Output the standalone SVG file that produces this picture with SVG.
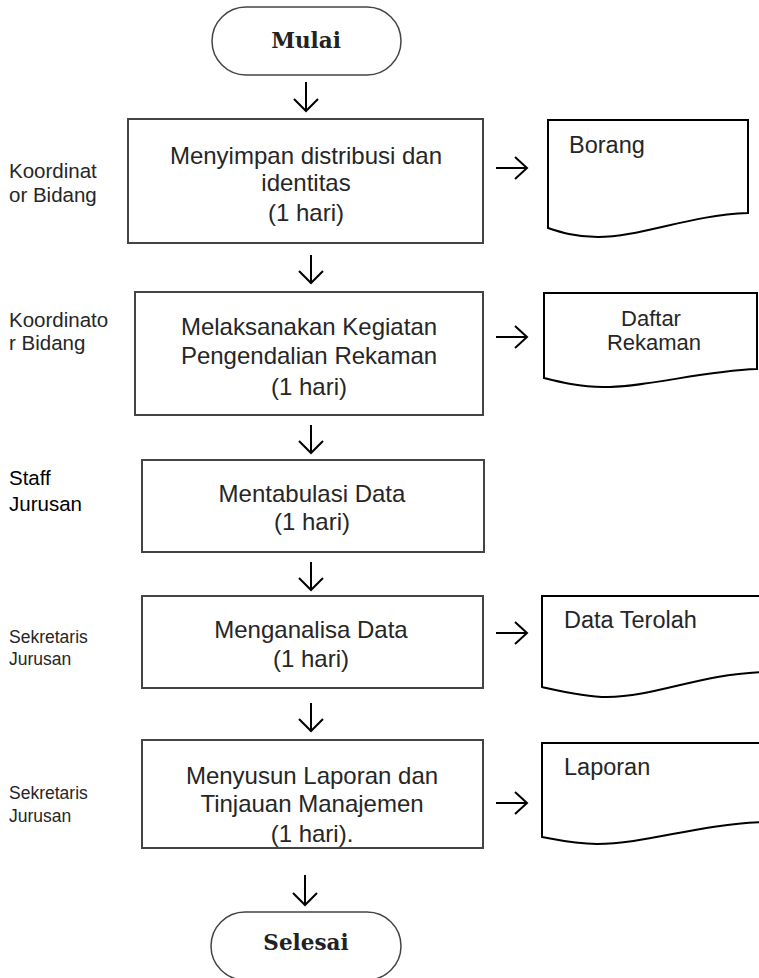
<svg xmlns="http://www.w3.org/2000/svg" width="759" height="978" viewBox="0 0 759 978">
<defs>
<style>
.box{fill:#fff;stroke:#444;stroke-width:2}
.term{fill:#fff;stroke:#444;stroke-width:1.5}
.doc{fill:#fff;stroke:#000;stroke-width:2}
.t{font-family:"Liberation Sans",Arial,sans-serif;font-size:24px;fill:#262626;text-anchor:middle}
.d{font-family:"Liberation Sans",Arial,sans-serif;font-size:23.5px;fill:#262626}
.lab{font-family:"Liberation Sans",Arial,sans-serif;font-size:20.5px;fill:#262626}
.lab2{font-family:"Liberation Sans",Arial,sans-serif;font-size:17.5px;fill:#262626}
.tt{font-family:"DejaVu Serif",serif;font-weight:bold;font-size:21.5px;fill:#222;text-anchor:middle}
.arr{fill:none;stroke:#000;stroke-width:2}
</style>
</defs>
<g id="labels">
<text class="lab" x="9" y="178">Koordinat</text>
<text class="lab" x="9" y="202">or Bidang</text>
<text class="lab" x="9" y="327">Koordinato</text>
<text class="lab" x="9" y="350">r Bidang</text>
<text class="lab" x="9" y="485" style="fill:#000">Staff</text>
<text class="lab" x="9" y="511" style="fill:#000">Jurusan</text>
<text class="lab2" x="9" y="643">Sekretaris</text>
<text class="lab2" x="9" y="665">Jurusan</text>
<text class="lab2" x="9" y="799">Sekretaris</text>
<text class="lab2" x="9" y="822">Jurusan</text>
</g>
<g id="mulai">
<rect class="term" x="212" y="7" width="189" height="68" rx="34"/>
<text class="tt" x="306" y="48">Mulai</text>
</g>
<g id="n1">
<rect class="box" x="128" y="119" width="355" height="124"/>
<text class="t" x="306" y="164">Menyimpan distribusi dan</text>
<text class="t" x="306" y="191">identitas</text>
<text class="t" x="306" y="221">(1 hari)</text>
</g>
<g id="n2">
<rect class="box" x="135" y="292" width="348" height="123"/>
<text class="t" x="309" y="335">Melaksanakan Kegiatan</text>
<text class="t" x="309" y="364">Pengendalian Rekaman</text>
<text class="t" x="309" y="395">(1 hari)</text>
</g>
<g id="n3">
<rect class="box" x="142" y="460" width="342" height="92"/>
<text class="t" x="312" y="502">Mentabulasi Data</text>
<text class="t" x="312" y="530">(1 hari)</text>
</g>
<g id="n4">
<rect class="box" x="142" y="596" width="341" height="92"/>
<text class="t" x="311" y="638">Menganalisa Data</text>
<text class="t" x="311" y="667">(1 hari)</text>
</g>
<g id="n5">
<rect class="box" x="142" y="740" width="341" height="108"/>
<text class="t" x="312" y="784">Menyusun Laporan dan</text>
<text class="t" x="312" y="812">Tinjauan Manajemen</text>
<text class="t" x="312" y="842">(1 hari).</text>
</g>
<g id="selesai">
<rect class="term" x="211" y="912" width="190" height="68" rx="34"/>
<text class="tt" x="306" y="950">Selesai</text>
</g>
<g id="d1">
<path class="doc" d="M548,120 L748,120 L748,213 C690,215 640,237 598,237 C575,237 560,232 548,228 Z"/>
<text class="d" x="569" y="153">Borang</text>
</g>
<g id="d2">
<path class="doc" d="M544,293 L757,293 L757,369 C700,371 650,387 603,387 C580,387 560,382 544,378 Z"/>
<text class="d" x="651" y="326" style="font-size:22px;text-anchor:middle">Daftar</text>
<text class="d" x="654" y="350" style="font-size:22px;text-anchor:middle">Rekaman</text>
</g>
<g id="d3">
<path class="doc" d="M542,596 L763,596 L763,672 C700,674 655,697 607,697 C585,697 560,691 542,687 Z"/>
<text class="d" x="564" y="628">Data Terolah</text>
</g>
<g id="d4">
<path class="doc" d="M542,743 L763,743 L763,822 C700,824 645,844 597,844 C575,844 558,840 542,837 Z"/>
<text class="d" x="564" y="775">Laporan</text>
</g>
<g id="connectors">
<path class="arr" d="M306,82 V110 M294,99 L306,111 L318,99"/>
<path class="arr" d="M311,255 V282 M299,271 L311,283 L323,271"/>
<path class="arr" d="M311,425 V452 M299,441 L311,453 L323,441"/>
<path class="arr" d="M311,562 V589 M299,578 L311,590 L323,578"/>
<path class="arr" d="M311,703 V730 M299,719 L311,731 L323,719"/>
<path class="arr" d="M305,875 V904 M293,893 L305,905 L317,893"/>
<path class="arr" d="M496,168 H526 M515,157 L527,168 L515,179"/>
<path class="arr" d="M496,337 H526 M515,326 L527,337 L515,348"/>
<path class="arr" d="M496,633 H526 M515,622 L527,633 L515,644"/>
<path class="arr" d="M496,803 H526 M515,792 L527,803 L515,814"/>
</g>
</svg>
